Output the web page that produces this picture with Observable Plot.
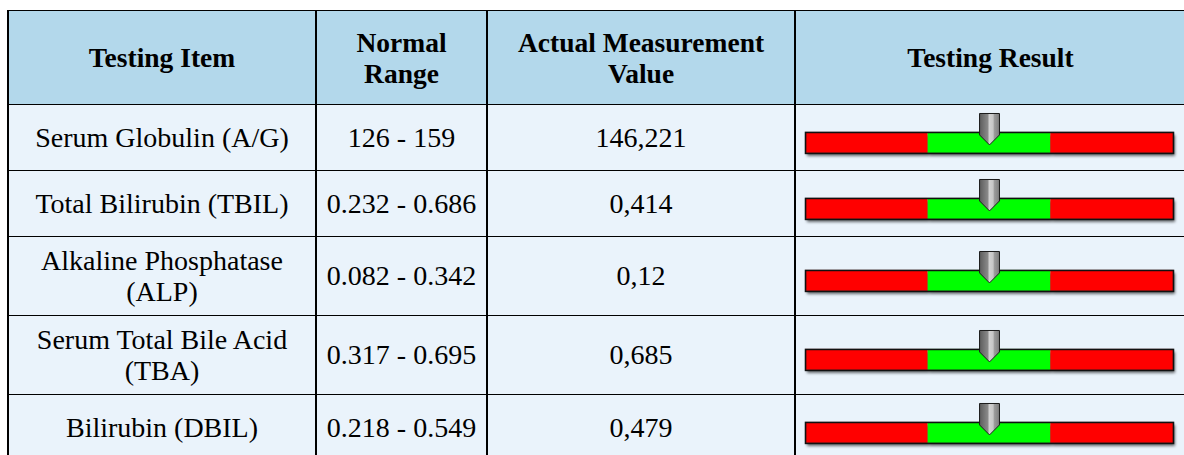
<!DOCTYPE html>
<html>
<head>
<meta charset="utf-8">
<script src="https://cdn.jsdelivr.net/npm/d3@7"></script>
<script src="https://cdn.jsdelivr.net/npm/@observablehq/plot@0.6"></script>
<style>
  html, body { margin: 0; padding: 0; background: #fff; width: 1184px; height: 455px; overflow: hidden; }
  #wrap { position: absolute; left: 7px; top: 10px; }
  table { border-collapse: collapse; table-layout: fixed; width: 1178px;
          font-family: "Liberation Serif", "Times New Roman", serif; color: #000; }
  th, td { border-left: 2px solid #000; border-right: 2px solid #000;
           border-top: 1px solid #000; border-bottom: 1px solid #000;
           text-align: center; vertical-align: middle; }
  th { background: #b3d8eb; font-weight: bold; font-size: 27.5px; line-height: 31px; padding: 15.5px 4px; }
  td { background: #eaf3fb; font-size: 28px; line-height: 31px; padding: 8px 4px; }
  td.gauge { padding: 8px 0; }
  td.gauge svg { display: block; }
</style>
</head>
<body>
<svg width="0" height="0" style="position:absolute">
  <defs>
    <linearGradient id="ptrGrad" x1="0" x2="1" y1="0" y2="0">
      <stop offset="0" stop-color="#5c5c5c"/>
      <stop offset="0.42" stop-color="#8a8a8a"/>
      <stop offset="0.48" stop-color="#d2d2d2"/>
      <stop offset="0.68" stop-color="#c6c6c6"/>
      <stop offset="0.74" stop-color="#9c9c9c"/>
      <stop offset="1" stop-color="#7c7c7c"/>
    </linearGradient>
  </defs>
</svg>
<div id="wrap"></div>
<script>
// ---- data ----
const headers = ["Testing Item", "Normal Range", "Actual Measurement Value", "Testing Result"];
const items = ["Serum Globulin (A/G)", "Total Bilirubin (TBIL)", "Alkaline Phosphatase (ALP)", "Serum Total Bile Acid (TBA)", "Bilirubin (DBIL)"];
const rangeLow = [126, 0.232, 0.082, 0.317, 0.218];
const rangeHigh = [159, 0.686, 0.342, 0.695, 0.549];
const measured = [146.221, 0.414, 0.12, 0.685, 0.479];
const zones = ["low", "normal", "high"];
const zoneColors = ["#ff0000", "#00ff00", "#ff0000"];

// pointer glyph: a pencil-like marker with a pointed bottom
const pointerSymbol = {
  draw(ctx, size) {
    const r = Math.sqrt(size / Math.PI);
    ctx.moveTo(-r, -29.5);
    ctx.lineTo(r, -29.5);
    ctx.lineTo(r, -8);
    ctx.lineTo(0, 2);
    ctx.lineTo(-r, -8);
    ctx.closePath();
  }
};

function gauge(lo, hi) {
  const span = hi - lo;
  const segs = [
    {x1: lo - span, x2: lo, zone: "low"},
    {x1: lo, x2: hi, zone: "normal"},
    {x1: hi, x2: hi + span, zone: "high"}
  ];
  const svg = Plot.plot({
    width: 390, height: 49,
    marginTop: 19, marginBottom: 9, marginLeft: 9, marginRight: 12,
    style: {background: "transparent", overflow: "visible"},
    x: {domain: [lo - span, hi + span], axis: null},
    color: {domain: zones, range: zoneColors},
    marks: [
      Plot.barX(segs, {x1: "x1", x2: "x2", fill: "zone"}),
      Plot.frame({stroke: "#111", strokeWidth: 1.6}),
      Plot.dot([(lo + hi) / 2], {x: d => d, r: 10, symbol: pointerSymbol,
        fill: "url(#ptrGrad)", stroke: "#1a1a1a", strokeWidth: 1})
    ]
  });
  const g = svg.querySelector('g[aria-label="bar"]');
  if (g) g.style.filter = "drop-shadow(2px 3px 1.6px rgba(0,0,0,0.6))";
  return svg;
}

const fmtVal = v => String(v).replace(".", ",");

const table = document.createElement("table");
const cg = document.createElement("colgroup");
[308, 171, 308, 391].forEach(w => { const c = document.createElement("col"); c.style.width = w + "px"; cg.appendChild(c); });
table.appendChild(cg);

const htr = document.createElement("tr");
headers.forEach(h => { const th = document.createElement("th"); th.textContent = h; htr.appendChild(th); });
table.appendChild(htr);

items.forEach((name, i) => {
  const tr = document.createElement("tr");
  const c1 = document.createElement("td"); c1.textContent = name;
  const c2 = document.createElement("td"); c2.textContent = `${rangeLow[i]} - ${rangeHigh[i]}`;
  const c3 = document.createElement("td"); c3.textContent = fmtVal(measured[i]);
  const c4 = document.createElement("td"); c4.className = "gauge";
  c4.appendChild(gauge(rangeLow[i], rangeHigh[i]));
  [c1, c2, c3, c4].forEach(c => tr.appendChild(c));
  table.appendChild(tr);
});
document.getElementById("wrap").appendChild(table);
</script>
</body>
</html>
